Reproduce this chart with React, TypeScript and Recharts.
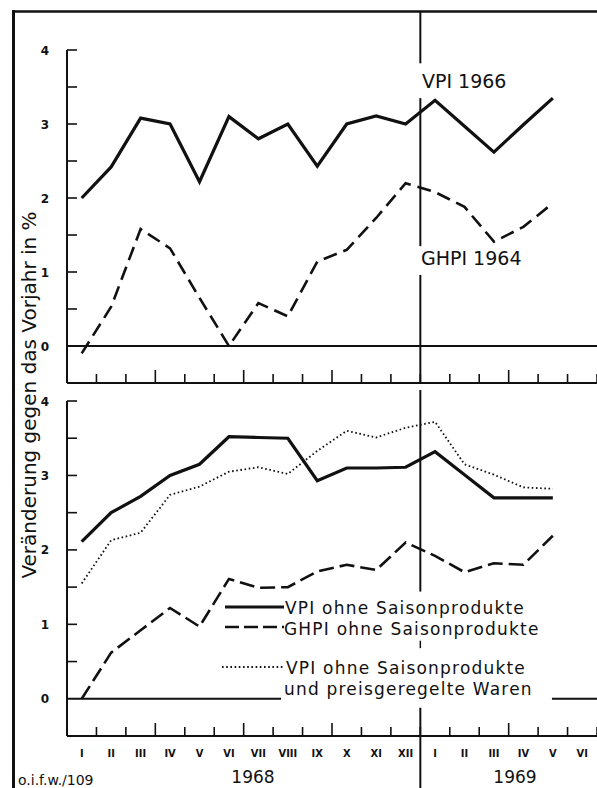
import React from 'react';
import { LineChart, Line, XAxis, YAxis, ReferenceLine } from 'recharts';

// ---- data ----
const monthLabels = ['I', 'II', 'III', 'IV', 'V', 'VI', 'VII', 'VIII', 'IX', 'X', 'XI', 'XII', 'I', 'II', 'III', 'IV', 'V', 'VI'];
const monthPos = [1, 2, 3, 4, 5, 6, 7, 8, 9, 10, 11, 12, 13, 14, 15, 16, 17, 18];
const yearLabels = ['1968', '1969'];

const vpi1966 = [2.0, 2.42, 3.08, 3.0, 2.22, 3.1, 2.8, 3.0, 2.43, 3.0, 3.11, 3.0, 3.32, 2.97, 2.62, 2.99, 3.35, null];
const ghpi1964 = [-0.1, 0.53, 1.58, 1.32, 0.65, 0.0, 0.58, 0.4, 1.14, 1.3, 1.73, 2.2, 2.08, 1.88, 1.41, 1.61, 1.93, null];

const vpiOhneSaison = [2.11, 2.5, 2.72, 3.0, 3.15, 3.52, 3.51, 3.5, 2.93, 3.1, 3.1, 3.11, 3.32, 3.01, 2.7, 2.7, 2.7, null];
const ghpiOhneSaison = [0.0, 0.62, 0.92, 1.22, 0.97, 1.61, 1.49, 1.5, 1.71, 1.8, 1.73, 2.1, 1.92, 1.7, 1.82, 1.8, 2.19, null];
const vpiOhneSaisonPreis = [1.55, 2.13, 2.23, 2.74, 2.85, 3.05, 3.11, 3.02, 3.33, 3.6, 3.51, 3.64, 3.72, 3.15, 3.01, 2.84, 2.82, null];

const yTicks = [0, 0.5, 1, 1.5, 2, 2.5, 3, 3.5, 4];
const xTicks = [0.5, 1, 1.5, 2, 2.5, 3, 3.5, 4, 4.5, 5, 5.5, 6, 6.5, 7, 7.5, 8, 8.5, 9, 9.5, 10, 10.5, 11, 11.5, 12, 12.5, 13, 13.5, 14, 14.5, 15, 15.5, 16, 16.5, 17, 17.5, 18, 18.5];
const quarterTicks = [3.5, 6.5, 9.5, 15.5];

const topData = monthPos.map((p, i) => ({ pos: p, vpi: vpi1966[i], ghpi: ghpi1964[i] }));
const bottomData = monthPos.map((p, i) => ({
  pos: p,
  vpi: vpiOhneSaison[i],
  ghpi: ghpiOhneSaison[i],
  vpiPreis: vpiOhneSaisonPreis[i],
}));

// ---- styling ----
const INK = '#111';
const FONT = "'DejaVu Sans', sans-serif";
const CONDENSED = "'DejaVu Sans Condensed', 'DejaVu Sans', sans-serif";

const YTick = (props: any) => {
  const { x, y, payload } = props;
  const v = payload.value;
  const major = Number.isInteger(v);
  return (
    <g>
      {v !== 0 && <line x1={x} x2={x + 10} y1={y} y2={y} stroke={INK} strokeWidth={1.6} />}
      {major && (
        <text x={x - 22} y={y + 4.5} textAnchor="middle" fontFamily={FONT} fontWeight="bold" fontSize={12} fill={INK}>
          {v}
        </text>
      )}
    </g>
  );
};

const makeXTick = (withLabels: boolean) => (props: any) => {
  const { x, y, payload } = props;
  const v = payload.value;
  if (Number.isInteger(v)) {
    if (!withLabels) return <g />;
    return (
      <text x={x} y={y + 21} textAnchor="middle" fontFamily={CONDENSED} fontWeight="bold" fontSize={11} fill={INK}>
        {monthLabels[v - 1]}
      </text>
    );
  }
  const len = quarterTicks.includes(v) ? 13 : 9;
  return <line x1={x} x2={x} y1={y} y2={y - len} stroke={INK} strokeWidth={1.6} />;
};

const TopXTick = makeXTick(false);
const BottomXTick = makeXTick(true);

const axisCommon = {
  tickSize: 0,
  tickMargin: 0,
  tickLine: false,
  interval: 0 as const,
};

const legendText = { fontFamily: FONT, fontSize: 17, letterSpacing: 1.2, fill: INK };

export default function App() {
  return (
    <div style={{ position: 'absolute', left: 0, top: 0, width: 597, height: 788, background: '#fff', overflow: 'hidden' }}>
      {/* upper panel */}
      <div style={{ position: 'absolute', left: 0, top: 0 }}>
        <LineChart width={597} height={400} data={topData} margin={{ top: 50, right: 0, bottom: 0, left: 27 }}>
          <XAxis
            dataKey="pos"
            type="number"
            domain={[0.5, 18.5]}
            ticks={xTicks}
            height={17}
            axisLine={{ stroke: INK, strokeWidth: 2 }}
            tick={<TopXTick />}
            {...axisCommon}
          />
          <YAxis
            type="number"
            domain={[-0.5, 4]}
            ticks={yTicks}
            width={40}
            axisLine={{ stroke: INK, strokeWidth: 2 }}
            tick={<YTick />}
            {...axisCommon}
          />
          <ReferenceLine y={0} stroke={INK} strokeWidth={2} />
          <ReferenceLine segment={[{ x: 12.5, y: 4.53 }, { x: 12.5, y: 3.82 }]} stroke={INK} strokeWidth={2} ifOverflow="visible" />
          <ReferenceLine segment={[{ x: 12.5, y: 3.35 }, { x: 12.5, y: 1.35 }]} stroke={INK} strokeWidth={2} ifOverflow="visible" />
          <ReferenceLine segment={[{ x: 12.5, y: 0.96 }, { x: 12.5, y: -0.5 }]} stroke={INK} strokeWidth={2} ifOverflow="visible" />
          <Line type="linear" dataKey="vpi" stroke={INK} strokeWidth={3.2} dot={false} isAnimationActive={false} />
          <Line type="linear" dataKey="ghpi" stroke={INK} strokeWidth={2.6} strokeDasharray="14 7" dot={false} isAnimationActive={false} />
        </LineChart>
      </div>

      {/* lower panel */}
      <div style={{ position: 'absolute', left: 0, top: 390 }}>
        <LineChart width={597} height={398} data={bottomData} margin={{ top: 11, right: 0, bottom: 0, left: 27 }}>
          <XAxis
            dataKey="pos"
            type="number"
            domain={[0.5, 18.5]}
            ticks={xTicks}
            height={52}
            axisLine={{ stroke: INK, strokeWidth: 2 }}
            tick={<BottomXTick />}
            {...axisCommon}
          />
          <YAxis
            type="number"
            domain={[-0.5, 4]}
            ticks={yTicks}
            width={40}
            axisLine={{ stroke: INK, strokeWidth: 2 }}
            tick={<YTick />}
            {...axisCommon}
          />
          <ReferenceLine segment={[{ x: 0.5, y: 0 }, { x: 7.77, y: 0 }]} stroke={INK} strokeWidth={2} ifOverflow="visible" />
          <ReferenceLine segment={[{ x: 16.97, y: 0 }, { x: 18.5, y: 0 }]} stroke={INK} strokeWidth={2} ifOverflow="visible" />
          <ReferenceLine segment={[{ x: 12.5, y: 4.25 }, { x: 12.5, y: 1.44 }]} stroke={INK} strokeWidth={2} ifOverflow="visible" />
          <ReferenceLine segment={[{ x: 12.5, y: 0.78 }, { x: 12.5, y: 0.68 }]} stroke={INK} strokeWidth={1.5} ifOverflow="visible" />
          <ReferenceLine segment={[{ x: 12.5, y: -0.12 }, { x: 12.5, y: -1.21 }]} stroke={INK} strokeWidth={2} ifOverflow="visible" />
          <Line type="linear" dataKey="vpi" stroke={INK} strokeWidth={3.2} dot={false} isAnimationActive={false} />
          <Line type="linear" dataKey="ghpi" stroke={INK} strokeWidth={2.6} strokeDasharray="15 6" dot={false} isAnimationActive={false} />
          <Line type="linear" dataKey="vpiPreis" stroke={INK} strokeWidth={1.8} strokeDasharray="1.6 2.6" dot={false} isAnimationActive={false} />
        </LineChart>
      </div>

      {/* annotations, frame, legend */}
      <svg width={597} height={788} style={{ position: 'absolute', left: 0, top: 0, pointerEvents: 'none' }}>
        <line x1={12} x2={597} y1={11.5} y2={11.5} stroke={INK} strokeWidth={2.6} />
        <line x1={13.5} x2={13.5} y1={10} y2={788} stroke={INK} strokeWidth={3} />

        <text
          x={36}
          y={395}
          transform="rotate(-90 36 395)"
          textAnchor="middle"
          fontFamily={FONT}
          fontSize={20}
          fill={INK}
        >
          Veränderung gegen das Vorjahr in %
        </text>

        <text x={422} y={88} fontFamily={FONT} fontSize={19} fill={INK}>VPI 1966</text>
        <text x={421} y={265} fontFamily={FONT} fontSize={19} fill={INK}>GHPI 1964</text>

        {/* legend */}
        <line x1={225} x2={284} y1={607} y2={607} stroke={INK} strokeWidth={3.2} />
        <line x1={225} x2={284} y1={627} y2={627} stroke={INK} strokeWidth={2.6} strokeDasharray="14 5" />
        <line x1={222} x2={284} y1={667} y2={667} stroke={INK} strokeWidth={1.8} strokeDasharray="1.6 2.6" />
        <text x={285} y={614} {...legendText}>VPI ohne Saisonprodukte</text>
        <text x={284} y={635} {...legendText}>GHPI ohne Saisonprodukte</text>
        <text x={286} y={674} {...legendText}>VPI ohne Saisonprodukte</text>
        <text x={284} y={695} {...legendText}>und preisgeregelte Waren</text>

        <text x={253} y={783} textAnchor="middle" fontFamily={FONT} fontSize={17} fill={INK}>{yearLabels[0]}</text>
        <text x={515} y={783} textAnchor="middle" fontFamily={FONT} fontSize={17} fill={INK}>{yearLabels[1]}</text>

        <text x={18} y={785} fontFamily={FONT} fontSize={14} fill={INK}>o.i.f.w./109</text>
      </svg>
    </div>
  );
}
